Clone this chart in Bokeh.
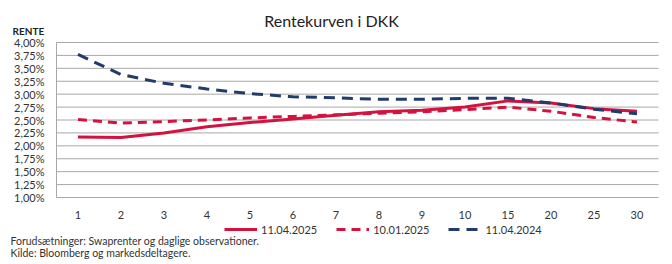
from bokeh.plotting import figure
from bokeh.models import Range1d, Legend, LegendItem
from bokeh.core.properties import value
from bokeh.embed import file_html
from bokeh.resources import INLINE

# ---- data ----
maturities = ["1", "2", "3", "4", "5", "6", "7", "8", "9", "10", "15", "20", "25", "30"]
rate_2025_04_11 = [2.17, 2.16, 2.25, 2.37, 2.45, 2.52, 2.59, 2.66, 2.69, 2.75, 2.87, 2.83, 2.72, 2.67]
rate_2025_01_10 = [2.51, 2.44, 2.47, 2.50, 2.54, 2.57, 2.60, 2.63, 2.66, 2.70, 2.75, 2.67, 2.55, 2.46]
rate_2024_04_11 = [3.77, 3.38, 3.21, 3.10, 3.01, 2.95, 2.93, 2.90, 2.90, 2.92, 2.92, 2.83, 2.71, 2.62]
y_ticks = [1.0, 1.25, 1.5, 1.75, 2.0, 2.25, 2.5, 2.75, 3.0, 3.25, 3.5, 3.75, 4.0]
series_labels = ["11.04.2025", "10.01.2025", "11.04.2024"]
title_text = "Rentekurven i DKK"
axis_title = "RENTE"
notes = ["Forudsætninger: Swaprenter og daglige observationer.",
         "Kilde: Bloomberg og markedsdeltagere."]

FONT = "Lato"
RED = "#d3123f"
BLUE = "#1f3c6c"
GRID = "#a8a8a8"
TXT = "#333333"

W, H = 672, 264
# plot area in canvas pixels
PL, PR, PT, PB = 56, 658, 42, 197
n = len(maturities)
slot = (PR - PL) / n                      # px per category slot
ymin, ymax = min(y_ticks), max(y_ticks)
ppu = (PB - PT) / (ymax - ymin)           # px per percentage point

# one frame covering the whole canvas; ranges chosen so the plot area sits at PL..PR, PT..PB
x_range = Range1d(-PL / slot, n + (W - PR) / slot)
y_range = Range1d(ymin - (H - PB) / ppu, ymax + PT / ppu)


def dx(px):
    return (px - PL) / slot


def dy(py):
    return ymin + (PB - py) / ppu


p = figure(width=W, height=H, x_range=x_range, y_range=y_range,
           x_axis_type=None, y_axis_type=None,
           min_border=0, min_border_left=0, min_border_right=0,
           min_border_top=0, min_border_bottom=0,
           output_backend="svg", toolbar_location=None)
p.outline_line_color = None
p.background_fill_color = "white"

# horizontal gridlines at the y ticks and the left axis line
p.segment(x0=[0] * len(y_ticks), x1=[n] * len(y_ticks), y0=y_ticks, y1=y_ticks,
          line_color=GRID, line_width=1)
p.segment(x0=[0], x1=[0], y0=[ymin], y1=[ymax], line_color=GRID, line_width=1)

# tick labels
y_labels = [f"{t:.2f}".replace(".", ",") + "%" for t in y_ticks]
p.text(x=[dx(44)] * len(y_ticks), y=y_ticks, text=y_labels, text_font=value(FONT),
       text_font_size="11px", text_align="right", text_baseline="middle", text_color=TXT)
x_pos = [i + 0.5 for i in range(n)]
p.text(x=x_pos, y=[dy(214)] * n, text=maturities, text_font=value(FONT),
       text_font_size="11px", text_align="center", text_baseline="middle", text_color=TXT)

# series
r1 = p.line(x_pos, rate_2025_04_11, line_color=RED, line_width=3)
r2 = p.line(x_pos, rate_2025_01_10, line_color=RED, line_width=3, line_dash="9 6")
r3 = p.line(x_pos, rate_2024_04_11, line_color=BLUE, line_width=3, line_dash="11 7")

# title, axis caption, notes
p.text(x=[dx(331)], y=[dy(20)], text=[title_text], text_font=value(FONT),
       text_font_size="16px", text_align="center", text_baseline="middle",
       text_color="#222222")
p.text(x=[dx(12)], y=[dy(30)], text=[axis_title], text_font=value(FONT),
       text_font_size="10px", text_font_style="bold", text_align="left",
       text_baseline="middle", text_color="#222222")
p.text(x=[dx(10), dx(10)], y=[dy(240), dy(252)], text=notes, text_font=value(FONT),
       text_font_size="10.5px", text_align="left", text_baseline="middle", text_color=TXT)

legend = Legend(items=[LegendItem(label=series_labels[0], renderers=[r1]),
                       LegendItem(label=series_labels[1], renderers=[r2]),
                       LegendItem(label=series_labels[2], renderers=[r3])],
                orientation="horizontal", location=(224, H - 236),
                glyph_width=33, glyph_height=14, label_standoff=4, spacing=19,
                padding=0, margin=0, border_line_color=None, background_fill_alpha=0,
                label_text_font=FONT, label_text_font_size="11px", label_text_color=TXT,
                label_height=14)
p.add_layout(legend)

open("out.html", "w").write(file_html(p, INLINE))
